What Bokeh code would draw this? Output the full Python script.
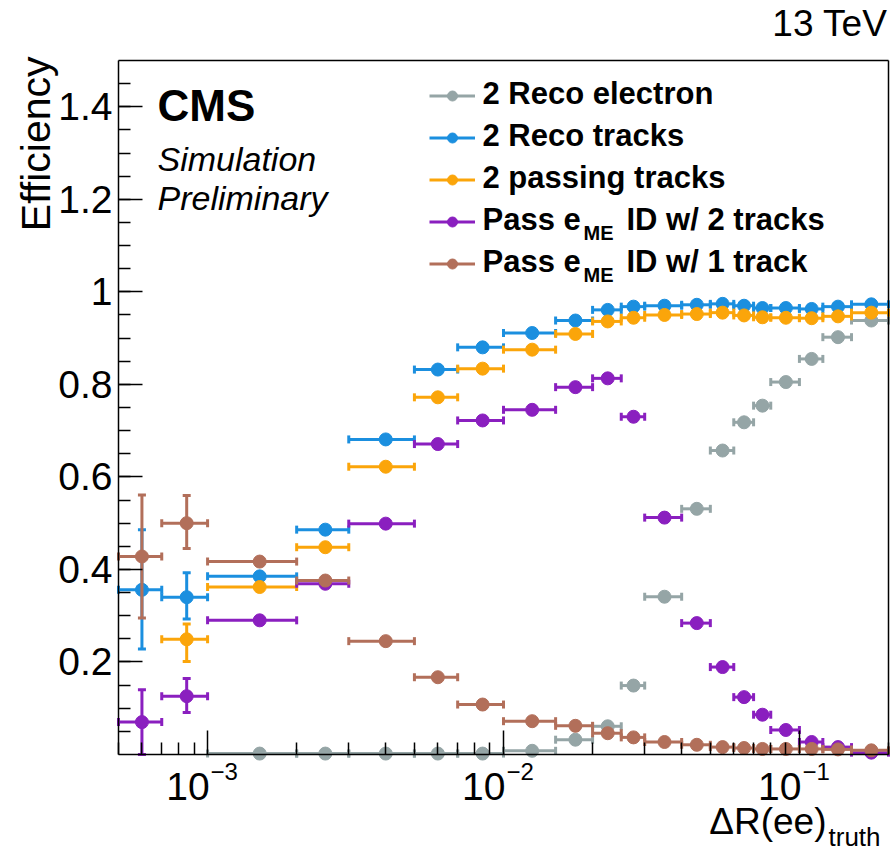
import math
from bokeh.plotting import figure
from bokeh.models import (ColumnDataSource, FixedTicker, Label, Legend, LegendItem,
                          Range1d, LinearAxis, LogAxis)
from bokeh.embed import file_html
from bokeh.resources import INLINE

nan = float("nan")

# ---------------- data ----------------
bin_edges = [5e-4, 7e-4, 1e-3, 2e-3, 3e-3, 5e-3, 7e-3, 1e-2, 1.5e-2, 2e-2,
             2.5e-2, 3e-2, 4e-2, 5e-2, 6e-2, 7e-2, 8e-2, 0.10, 0.12, 0.15, 0.20]

reco_electron = [nan, nan, 0.002, 0.002, 0.002, 0.002, 0.002, 0.008, 0.032, 0.061,
                 0.149, 0.341, 0.531, 0.657, 0.718, 0.754, 0.805, 0.855, 0.902, 0.938]
reco_tracks = [0.356, 0.340, 0.385, 0.486, 0.681, 0.832, 0.880, 0.911, 0.938, 0.961,
               0.968, 0.970, 0.972, 0.974, 0.970, 0.965, 0.965, 0.963, 0.968, 0.973]
passing_tracks = [nan, 0.249, 0.362, 0.448, 0.622, 0.772, 0.834, 0.875, 0.909, 0.936,
                  0.944, 0.950, 0.952, 0.955, 0.949, 0.945, 0.944, 0.943, 0.947, 0.955]
pass_id_2trk = [0.070, 0.126, 0.290, 0.369, 0.499, 0.671, 0.722, 0.745, 0.794, 0.813,
                0.730, 0.512, 0.284, 0.189, 0.124, 0.086, 0.053, 0.027, 0.016, 0.004]
pass_id_1trk = [0.428, 0.500, 0.417, 0.376, 0.245, 0.167, 0.108, 0.072, 0.062, 0.046,
                0.037, 0.027, 0.021, 0.016, 0.014, 0.012, 0.012, 0.012, 0.011, 0.009]

# visible vertical error bars (up / down), zero elsewhere
zeros = [0.0] * 20
reco_tracks_err_up = [0.130, 0.053] + [0.0] * 18
reco_tracks_err_dn = [0.128, 0.047] + [0.0] * 18
passing_tracks_err_up = [0.0, 0.033] + [0.0] * 18
passing_tracks_err_dn = [0.0, 0.048] + [0.0] * 18
pass_id_2trk_err_up = [0.070, 0.038] + [0.0] * 18
pass_id_2trk_err_dn = [0.070, 0.035] + [0.0] * 18
pass_id_1trk_err_up = [0.133, 0.060] + [0.0] * 18
pass_id_1trk_err_dn = [0.133, 0.055] + [0.0] * 18

series_labels = ["2 Reco electron", "2 Reco tracks", "2 passing tracks",
                 "Pass e_ME ID w/ 2 tracks", "Pass e_ME ID w/ 1 track"]
series_colors = ["#95a5a6", "#1b8fdf", "#fba50a", "#8a1fbf", "#b26f5a"]

x_limits = (5e-4, 0.2)
y_limits = (0.0, 1.5)
y_major_ticks = [0.2, 0.4, 0.6, 0.8, 1.0, 1.2, 1.4]
x_major_ticks = [1e-3, 1e-2, 1e-1]
x_tick_exponents = ["\u22123", "\u22122", "\u22121"]

# ---------------- layout geometry ----------------
W, H = 892, 854
BOX_L, BOX_R, BOX_T, BOX_B = 118, 888, 60, 754   # plotting box on the canvas (px)

# the bokeh frame covers the whole canvas; extend the ranges so that the
# data box [x_limits] x [y_limits] lands on the plotting box
lx0, lx1 = math.log10(x_limits[0]), math.log10(x_limits[1])
px_per_dec = (BOX_R - BOX_L) / (lx1 - lx0)
x_start = 10 ** (lx0 - BOX_L / px_per_dec)
x_end = 10 ** (lx1 + (W - BOX_R) / px_per_dec)
px_per_y = (BOX_B - BOX_T) / (y_limits[1] - y_limits[0])
y_start = y_limits[0] - (H - BOX_B) / px_per_y
y_end = y_limits[1] + BOX_T / px_per_y

FONT = "Liberation Sans"
p = figure(width=W, height=H, x_axis_type="log", title=None,
           x_range=Range1d(x_start, x_end), y_range=Range1d(y_start, y_end),
           toolbar_location=None, output_backend="svg", min_border=0)
p.min_border_left = p.min_border_right = p.min_border_top = p.min_border_bottom = 0
p.grid.visible = False
p.outline_line_color = None
p.background_fill_color = "white"
p.border_fill_color = "white"

# y axis (left edge of the box)
yax = p.yaxis[0]
yax.fixed_location = x_limits[0]
yax.bounds = y_limits
yax.ticker = FixedTicker(ticks=y_major_ticks,
                         minor_ticks=[round(0.05 * k, 2) for k in range(1, 30)])
yax.major_label_overrides = {1.0: "1", 1: "1"}
yax.major_label_text_font = FONT
yax.major_label_text_font_size = "39px"
yax.major_label_text_color = "black"
yax.major_label_standoff = 6
yax.major_tick_in = 24
yax.major_tick_out = 0
yax.minor_tick_in = 12
yax.minor_tick_out = 0
yax.axis_line_width = 1.5
yax.major_tick_line_width = 1.5
yax.minor_tick_line_width = 1.5

# x axis (log, bottom edge of the box)
x_minor = []
for e in range(-4, 0):
    for k in range(2, 10):
        v = k * 10.0 ** e
        if x_limits[0] <= v <= x_limits[1]:
            x_minor.append(v)
xax = p.xaxis[0]
xax.fixed_location = y_limits[0]
xax.bounds = x_limits
xax.ticker = FixedTicker(ticks=x_major_ticks, minor_ticks=x_minor)
xax.major_label_overrides = {t: "" for t in x_major_ticks}
xax.major_tick_in = 24
xax.major_tick_out = 0
xax.minor_tick_in = 12
xax.minor_tick_out = 0
xax.axis_line_width = 1.5
xax.major_tick_line_width = 1.5
xax.minor_tick_line_width = 1.5

# top and right edges of the box (no ticks)
top_ax = LogAxis(fixed_location=y_limits[1], bounds=x_limits,
                 ticker=FixedTicker(ticks=[]), major_tick_in=0, major_tick_out=0,
                 minor_tick_in=0, minor_tick_out=0, axis_line_width=1.5,
                 major_label_text_font_size="0px")
right_ax = LinearAxis(fixed_location=x_limits[1], bounds=y_limits,
                      ticker=FixedTicker(ticks=[]), major_tick_in=0, major_tick_out=0,
                      minor_tick_in=0, minor_tick_out=0, axis_line_width=1.5,
                      major_label_text_font_size="0px")
p.add_layout(top_ax, "above")
p.add_layout(right_ax, "right")

# ---------------- series ----------------
all_vals = [reco_electron, reco_tracks, passing_tracks, pass_id_2trk, pass_id_1trk]
all_up = [zeros, reco_tracks_err_up, passing_tracks_err_up, pass_id_2trk_err_up, pass_id_1trk_err_up]
all_dn = [zeros, reco_tracks_err_dn, passing_tracks_err_dn, pass_id_2trk_err_dn, pass_id_1trk_err_dn]

legend_items = []
for vals, eup, edn, color, lab in zip(all_vals, all_up, all_dn, series_colors, series_labels):
    d = dict(x=[], xlo=[], xhi=[], y=[], ylo=[], yhi=[])
    dv = dict(x=[], ylo=[], yhi=[])
    for i, v in enumerate(vals):
        if math.isnan(v):
            continue
        lo, hi = bin_edges[i], bin_edges[i + 1]
        d["x"].append(0.5 * (lo + hi))
        d["xlo"].append(lo)
        d["xhi"].append(hi)
        d["y"].append(v)
        d["ylo"].append(v - edn[i])
        d["yhi"].append(v + eup[i])
        if eup[i] > 0 or edn[i] > 0:
            dv["x"].append(0.5 * (lo + hi))
            dv["ylo"].append(v - edn[i])
            dv["yhi"].append(v + eup[i])
    src = ColumnDataSource(d)
    hbar = p.segment(x0="xlo", y0="y", x1="xhi", y1="y", source=src,
                     line_color=color, line_width=3)
    p.scatter(x="xlo", y="y", source=src, marker="dash", angle=math.pi / 2,
              size=8, line_color=color, line_width=3)
    p.scatter(x="xhi", y="y", source=src, marker="dash", angle=math.pi / 2,
              size=8, line_color=color, line_width=3)
    if dv["x"]:
        vsrc = ColumnDataSource(dv)
        p.segment(x0="x", y0="ylo", x1="x", y1="yhi", source=vsrc,
                  line_color=color, line_width=3)
        p.scatter(x="x", y="ylo", source=vsrc, marker="dash", size=8,
                  line_color=color, line_width=3)
        p.scatter(x="x", y="yhi", source=vsrc, marker="dash", size=8,
                  line_color=color, line_width=3)
    dots = p.scatter(x="x", y="y", source=src, marker="circle", size=13,
                     fill_color=color, line_color=color, line_width=1)
    legend_items.append(LegendItem(label=" ", renderers=[hbar, dots]))

legend = Legend(items=legend_items, location=(429, 578),
                orientation="vertical", glyph_width=46, glyph_height=25,
                label_height=25, label_width=1, spacing=17, padding=0, margin=0,
                label_standoff=0, border_line_alpha=0, background_fill_alpha=0,
                label_text_font_size="10px")
p.add_layout(legend)

# ---------------- texts (canvas px: x from left, y from top = baseline) ----------------
BASELINE_FIX = 0.36   # bokeh's alphabetic anchor sits ~0.36 em above the drawn baseline

def add_label(x, y, text, size, style="normal", align="left",
              x_units="screen", rotated=False, x_offset=0):
    fs = float(size.replace("px", ""))
    if rotated:
        x_scr, y_scr, ang = x - BASELINE_FIX * fs, H - y, math.pi / 2
    else:
        x_scr, y_scr, ang = x, H - y + BASELINE_FIX * fs, 0.0
    p.add_layout(Label(x=x_scr, y=y_scr, x_units=x_units, y_units="screen", text=text,
                       text_font=FONT, text_font_size=size, text_font_style=style,
                       text_align=align, text_baseline="alphabetic", text_color="black",
                       angle=ang, x_offset=x_offset))

# x tick labels 10^n
for t, ex in zip(x_major_ticks, x_tick_exponents):
    add_label(t, 800, "10", "39px", align="right", x_units="data", x_offset=2)
    add_label(t, 780, ex, "24px", align="left", x_units="data", x_offset=3)

# axis titles
add_label(826, 834, "\u0394R(ee)", "37px", align="right")
add_label(828, 846, "truth", "26px", align="left")
add_label(50, 56, "Efficiency", "41px", align="right", rotated=True)

# energy
add_label(887, 36, "13 TeV", "37px", align="right")

# CMS labels
add_label(157, 121, "CMS", "44px", style="bold")
add_label(157, 171, "Simulation", "34px", style="italic")
add_label(157, 210, "Preliminary", "34px", style="italic")

# legend texts (with subscripts)
legend_x = 482
for r, txt in enumerate(["2 Reco electron", "2 Reco tracks", "2 passing tracks"]):
    add_label(legend_x, 104 + 42 * r, txt, "31px", style="bold")
for r, tail in ((3, "ID w/ 2 tracks"), (4, "ID w/ 1 track")):
    base = 104 + 42 * r
    add_label(legend_x, base, "Pass e", "31px", style="bold")
    add_label(legend_x + 101, base + 10, "ME", "20px", style="bold")
    add_label(legend_x + 144, base, tail, "31px", style="bold")

open("out.html", "w").write(file_html(p, INLINE))
